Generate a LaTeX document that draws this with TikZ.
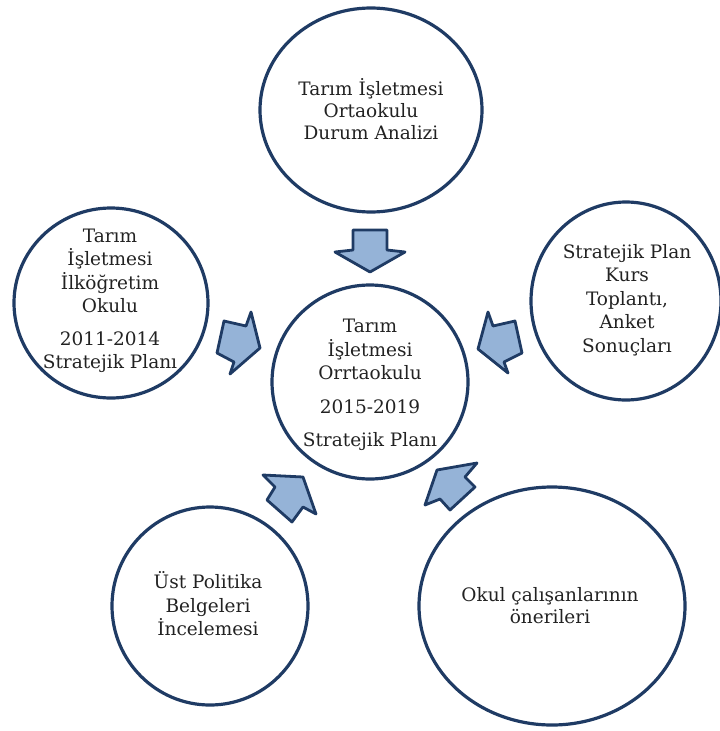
\documentclass[tikz,border=0pt]{standalone}
\usepackage{fontspec}
\setmainfont{DejaVu Serif}
\usetikzlibrary{shapes.geometric}
\definecolor{ringc}{HTML}{1F3B64}
\definecolor{arrfill}{HTML}{95B3D7}
\definecolor{arrline}{HTML}{1F3B64}
\definecolor{txtc}{HTML}{222222}
\begin{document}
\begin{tikzpicture}[x=1pt,y=-1pt,
  ring/.style={draw=ringc,line width=3.2pt,ellipse,inner sep=0pt},
  lbl/.style={align=center,inner sep=0pt,text=txtc,font=\fontsize{18.5}{23.5}\selectfont},
  blockarrow/.style={draw=arrline,fill=arrfill,line width=2.8pt,line join=round}]
\useasboundingbox (0,0) rectangle (720,731);
% circles
\node[ring,minimum width=222pt,minimum height=204pt] (top) at (371,110) {};
\node[ring,minimum width=194pt,minimum height=190pt] (left) at (111,303) {};
\node[ring,minimum width=196pt,minimum height=194pt] (mid) at (370,382) {};
\node[ring,minimum width=190pt,minimum height=198pt] (right) at (626,301) {};
\node[ring,minimum width=196pt,minimum height=198pt] (bl) at (210,606) {};
\node[ring,minimum width=266pt,minimum height=238pt] (br) at (552,606) {};
% texts
\node[lbl,font=\fontsize{18.5}{22}\selectfont] (ttop) at (371,109) {Tarım İşletmesi\\Ortaokulu\\Durum Analizi};
\node[lbl] (tleft) at (110,301) {Tarım\\İşletmesi\\İlköğretim\\Okulu\\[9pt]2011-2014\\Stratejik Planı};
\node[lbl] (tmid) at (370,385) {Tarım\\İşletmesi\\Orrtaokulu\\[10pt]2015-2019\\[10pt]Stratejik Planı};
\node[lbl] (tright) at (627,300) {Stratejik Plan\\Kurs\\Toplantı,\\Anket\\Sonuçları};
\node[lbl] (tbl) at (208,604) {Üst Politika\\Belgeleri\\İncelemesi};
\node[lbl,font=\fontsize{18.5}{22}\selectfont] (tbr) at (550,606) {Okul çalışanlarının\\önerileri};
% block arrows
\draw[blockarrow] (353,230) -- (387,230) -- (387,250) -- (405,252) -- (370,272) -- (335,252) -- (353,250) -- cycle;
\draw[blockarrow] (224,321) -- (246,326) -- (251,312) -- (260,348) -- (230,374) -- (234,362) -- (217,353) -- cycle;
\draw[blockarrow] (515,321) -- (493,326) -- (488,312) -- (478,349) -- (508,373) -- (504,362) -- (522,353) -- cycle;
\draw[blockarrow] (263,475) -- (303,477) -- (316,514) -- (303,507) -- (292,522) -- (267,500) -- (275,487) -- cycle;
\draw[blockarrow] (477,463) -- (437,470) -- (425,505) -- (440,499) -- (450,510) -- (475,487) -- (465,477) -- cycle;
\end{tikzpicture}
\end{document}
